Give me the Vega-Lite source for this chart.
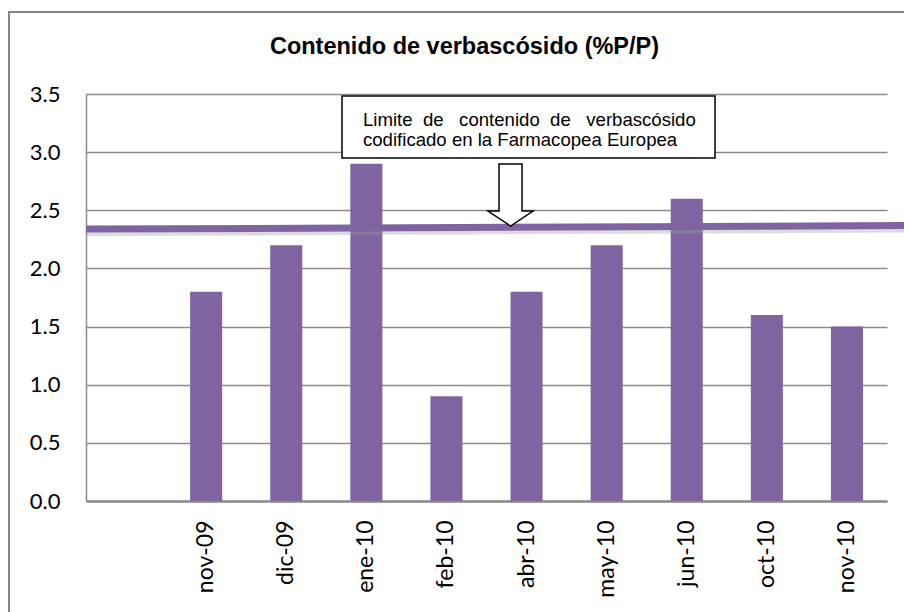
{
  "$schema": "https://vega.github.io/schema/vega-lite/v6.json",
  "width": 801,
  "height": 407,
  "autosize": {"type": "none"},
  "padding": {"left": 86, "top": 94, "right": 17, "bottom": 111},
  "background": "white",
  "title": {
    "text": "Contenido de verbascósido (%P/P)",
    "font": "Liberation Sans",
    "fontSize": 23.5,
    "fontWeight": "bold",
    "color": "black",
    "anchor": "middle",
    "frame": "group",
    "offset": -66,
    "dx": -22,
    "baseline": "alphabetic"
  },
  "config": {
    "view": {"stroke": null},
    "axis": {"labelColor": "black", "labelFont": "Lato", "ticks": false}
  },
  "datasets": {
    "bars": [
      {"mes": "nov-09", "valor": 1.8},
      {"mes": "dic-09", "valor": 2.2},
      {"mes": "ene-10", "valor": 2.9},
      {"mes": "feb-10", "valor": 0.9},
      {"mes": "abr-10", "valor": 1.8},
      {"mes": "may-10", "valor": 2.2},
      {"mes": "jun-10", "valor": 2.6},
      {"mes": "oct-10", "valor": 1.6},
      {"mes": "nov-10", "valor": 1.5}
    ],
    "frame": [{"x1": -0.961, "x2": 11, "y1": 4.205, "y2": -1.5}],
    "limite": [{"xq": 0, "v": 2.338}, {"xq": 10.22, "v": 2.369}],
    "caja": [{"x1": 3.196, "x2": 7.853, "y1": 3.482, "y2": 2.949}],
    "palabras": [
      {"t": "Limite\u00a0\u00a0de\u00a0\u00a0\u00a0contenido\u00a0\u00a0de\u00a0\u00a0\u00a0verbascósido\ncodificado en la Farmacopea Europea", "xq": 3.458, "v": 3.227}
    ],
    "flecha": [{"xq": 5.3, "v": 2.631}]
  },
  "layer": [
    {
      "data": {"name": "frame"},
      "mark": {"type": "rect", "fill": "white", "fillOpacity": 0, "stroke": "#878787", "strokeWidth": 2},
      "encoding": {
        "x": {"field": "x1", "type": "quantitative", "scale": {"domain": [0, 10], "nice": false, "zero": false}, "axis": null},
        "x2": {"field": "x2"},
        "y": {"field": "y1", "type": "quantitative", "title": null, "scale": {"domain": [0, 3.5], "nice": false}},
        "y2": {"field": "y2"}
      }
    },
    {
      "data": {"name": "bars"},
      "mark": {"type": "bar", "color": "#8064A2"},
      "encoding": {
        "x": {
          "field": "mes",
          "type": "nominal",
          "sort": null,
          "title": null,
          "scale": {
            "domain": [" ", "nov-09", "dic-09", "ene-10", "feb-10", "abr-10", "may-10", "jun-10", "oct-10", "nov-10"],
            "paddingInner": 0.6,
            "paddingOuter": 0.3
          },
          "axis": {
            "labelAngle": -90,
            "labelFontSize": 23,
            "labelPadding": 19,
            "ticks": false,
            "grid": false,
            "domainColor": "#8c8c8c",
            "domainWidth": 2.5
          }
        },
        "y": {
          "field": "valor",
          "type": "quantitative",
          "title": null,
          "scale": {"domain": [0, 3.5], "nice": false},
          "axis": {
            "values": [0, 0.5, 1, 1.5, 2, 2.5, 3, 3.5],
            "format": ".1f",
            "labelFontSize": 22,
            "labelPadding": 26,
            "ticks": false,
            "grid": true,
            "gridColor": "#8c8c8c",
            "gridWidth": 1.5,
            "domainColor": "#8c8c8c",
            "domainWidth": 1.5
          }
        }
      }
    },
    {
      "data": {"name": "limite"},
      "mark": {"type": "line", "stroke": "#9a9a9a", "strokeWidth": 6, "opacity": 0.35, "yOffset": 4},
      "encoding": {
        "x": {"field": "xq", "type": "quantitative", "scale": {"domain": [0, 10], "nice": false, "zero": false}, "axis": null},
        "y": {"field": "v", "type": "quantitative", "title": null, "scale": {"domain": [0, 3.5], "nice": false}}
      }
    },
    {
      "data": {"name": "limite"},
      "mark": {"type": "line", "stroke": "#8064A2", "strokeWidth": 7},
      "encoding": {
        "x": {"field": "xq", "type": "quantitative", "scale": {"domain": [0, 10], "nice": false, "zero": false}, "axis": null},
        "y": {"field": "v", "type": "quantitative", "title": null, "scale": {"domain": [0, 3.5], "nice": false}}
      }
    },
    {
      "data": {"name": "caja"},
      "mark": {"type": "rect", "fill": "white", "stroke": "black", "strokeWidth": 1.5},
      "encoding": {
        "x": {"field": "x1", "type": "quantitative", "scale": {"domain": [0, 10], "nice": false, "zero": false}, "axis": null},
        "x2": {"field": "x2"},
        "y": {"field": "y1", "type": "quantitative", "title": null, "scale": {"domain": [0, 3.5], "nice": false}},
        "y2": {"field": "y2"}
      }
    },
    {
      "data": {"name": "palabras"},
      "mark": {"type": "text", "align": "left", "baseline": "alphabetic", "font": "Liberation Sans", "fontSize": 18.6, "lineBreak": "\n", "lineHeight": 20.7, "color": "black"},
      "encoding": {
        "x": {"field": "xq", "type": "quantitative", "scale": {"domain": [0, 10], "nice": false, "zero": false}, "axis": null},
        "y": {"field": "v", "type": "quantitative", "title": null, "scale": {"domain": [0, 3.5], "nice": false}},
        "text": {"field": "t"}
      }
    },
    {
      "data": {"name": "flecha"},
      "mark": {
        "type": "point",
        "shape": "M-0.371,-1 L0.371,-1 L0.371,0.516 L0.726,0.516 L0,1 L-0.726,0.516 L-0.371,0.516 Z",
        "size": 3844,
        "filled": true,
        "fill": "white",
        "stroke": "black",
        "strokeWidth": 1.5,
        "opacity": 1
      },
      "encoding": {
        "x": {"field": "xq", "type": "quantitative", "scale": {"domain": [0, 10], "nice": false, "zero": false}, "axis": null},
        "y": {"field": "v", "type": "quantitative", "title": null, "scale": {"domain": [0, 3.5], "nice": false}}
      }
    }
  ],
  "resolve": {"scale": {"x": "independent"}}
}
